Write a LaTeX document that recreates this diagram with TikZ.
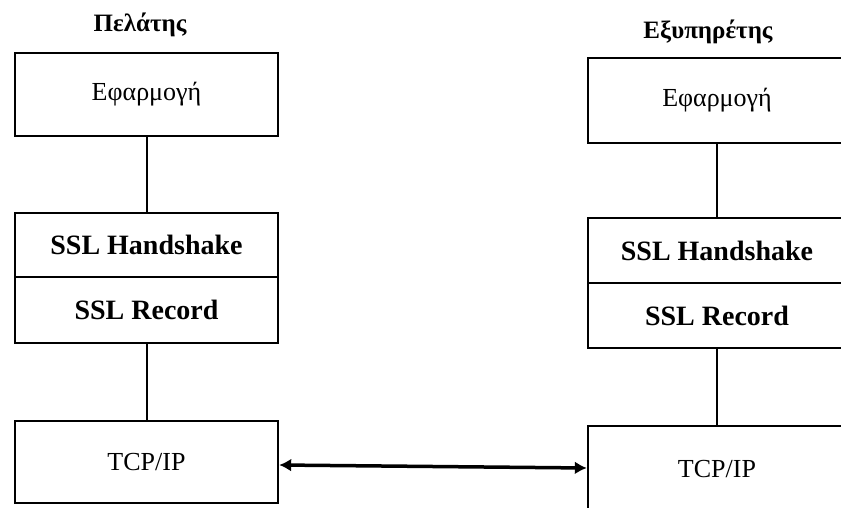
\documentclass[tikz,border=0pt]{standalone}
\usepackage{fontspec}
\setmainfont{Liberation Serif}
\usetikzlibrary{arrows.meta}

\begin{document}
\begin{tikzpicture}[x=1pt,y=-1pt,
                layer/.style={draw, line width=2.4pt, inner sep=0pt, font=\fontsize{26}{30}\selectfont},
                ssl/.style={layer, font=\bfseries\fontsize{28}{32}\selectfont},
                side/.style={font=\bfseries\fontsize{25}{28}\selectfont},
                link/.style={line width=2pt}]
                \useasboundingbox (0,0) rectangle (841,508);
                \node[side] (cTitle) at (140,25) {Πελάτης};
                \node[side] (sTitle) at (708,32) {Εξυπηρέτης};
                \node[layer, minimum width=263pt, minimum height=83pt] (cApp) at (146.5,94.5) {Εφαρμογή};
                \node[ssl, minimum width=263pt, minimum height=64pt] (cHand) at (146.5,245) {SSL Handshake};
                \node[ssl, minimum width=263pt, minimum height=66pt] (cRec) at (146.5,310) {SSL Record};
                \node[layer, minimum width=263pt, minimum height=82pt] (cTcp) at (146.5,462) {TCP/IP};
                \node[layer, minimum width=258pt, minimum height=85pt] (sApp) at (717,100.5) {Εφαρμογή};
                \node[ssl, minimum width=258pt, minimum height=65pt] (sHand) at (717,250.5) {SSL Handshake};
                \node[ssl, minimum width=258pt, minimum height=65pt] (sRec) at (717,315.5) {SSL Record};
                \node[layer, minimum width=258pt, minimum height=86pt] (sTcp) at (717,469) {TCP/IP};
                \draw[link] (cApp) -- (cHand);
                \draw[link] (cRec) -- (cTcp);
                \draw[link] (sApp) -- (sHand);
                \draw[link] (sRec) -- (sTcp);
                \draw[line width=3.5pt, {Latex[length=12pt,width=13pt]}-{Latex[length=12pt,width=13pt]}] ([yshift=-3pt]cTcp.east) -- ([yshift=1pt]sTcp.west);
            \end{tikzpicture}
\end{document}
